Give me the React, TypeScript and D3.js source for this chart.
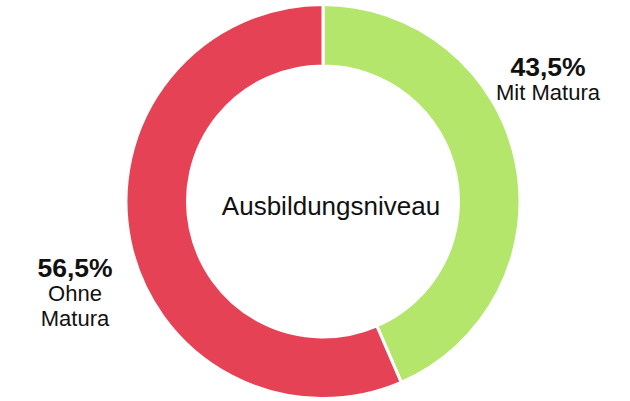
import React from "react";
import * as d3 from "d3";

const categories = ["Mit Matura", "Ohne Matura"];
const values = [43.5, 56.5];
const valueLabels = ["43,5%", "56,5%"];
const nameLines = [["Mit Matura"], ["Ohne", "Matura"]];
const colors = ["#b3e66b", "#e64255"];
const centerTitle = "Ausbildungsniveau";

const W = 630;
const H = 401;
const cx = 323;
const cy = 201.5;
const outerR = 197;
const innerR = 135.5;
// label anchor points (layout)
const labelPos = [
  { x: 548, y: 76 },
  { x: 75, y: 277 },
];

export default function App() {
  const pie = d3
    .pie<number>()
    .sort(null)
    .value((d) => d);
  const arcs = pie(values);
  const arc = d3.arc<d3.PieArcDatum<number>>().innerRadius(innerR).outerRadius(outerR);
  const font = "'Liberation Sans', Arial, Helvetica, sans-serif";
  return (
    <svg
      width={W}
      height={H}
      style={{ position: "absolute", left: 0, top: 0 }}
      fontFamily={font}
    >
      <rect width={W} height={H} fill="#fff" />
      <g transform={`translate(${cx},${cy})`}>
        {arcs.map((a, i) => (
          <path
            key={categories[i]}
            d={arc(a) || ""}
            fill={colors[i]}
            stroke="#fff"
            strokeWidth={3}
            strokeLinejoin="miter"
          />
        ))}
      </g>
      <text x={331} y={215} textAnchor="middle" fontSize={26} fill="#111">
        {centerTitle}
      </text>
      {labelPos.map((p, i) => (
        <g key={i}>
          <text x={p.x} y={p.y} textAnchor="middle" fontSize={26.5} fontWeight="bold" fill="#111">
            {valueLabels[i]}
          </text>
          {nameLines[i].map((ln, j) => (
            <text
              key={j}
              x={p.x}
              y={p.y + 24 + j * 25}
              textAnchor="middle"
              fontSize={22}
              fill="#111"
            >
              {ln}
            </text>
          ))}
        </g>
      ))}
    </svg>
  );
}
